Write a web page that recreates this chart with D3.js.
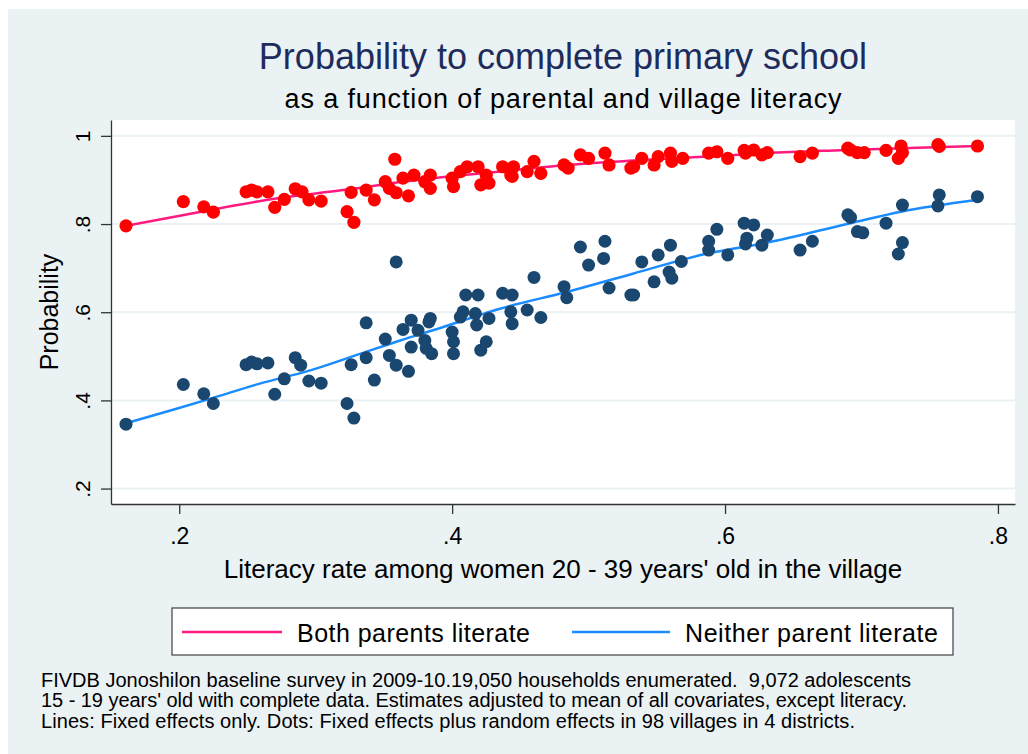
<!DOCTYPE html>
<html>
<head>
<meta charset="utf-8">
<script src="https://cdnjs.cloudflare.com/ajax/libs/d3/7.8.5/d3.min.js"></script>
<style>
  html, body { margin: 0; padding: 0; background: #ffffff; }
  svg { display: block; font-family: "Liberation Sans", Arial, sans-serif; }
  text { white-space: pre; }
</style>
</head>
<body>
<svg id="chart" width="1028" height="754"></svg>
<script>
// ---------- data ----------
const titleText = "Probability to complete primary school";
const subtitleText = "as a function of parental and village literacy";
const xTitle = "Literacy rate among women 20 - 39 years' old in the village";
const yTitle = "Probability";
const seriesNames = ["Both parents literate", "Neither parent literate"];
const notes = [
  "FIVDB Jonoshilon baseline survey in 2009-10.19,050 households enumerated.  9,072 adolescents",
  "15 - 19 years' old with complete data. Estimates adjusted to mean of all covariates, except literacy.",
  "Lines: Fixed effects only. Dots: Fixed effects plus random effects in 98 villages in 4 districts."
];
const xTicks = [0.2, 0.4, 0.6, 0.8];
const xTickLabels = [".2", ".4", ".6", ".8"];
const yTicks = [0.2, 0.4, 0.6, 0.8, 1];
const yTickLabels = [".2", ".4", ".6", ".8", "1"];

// Dots: both parents literate (fixed + random effects)
const redX = [.161,.203,.218,.225,.249,.253,.257,.265,.270,.277,.285,.290,.295,.304,.323,.328,.326,.337,.343,.351,.358,.354,.359,.364,.368,.372,.380,.384,.384,.400,.401,.406,.411,.419,.421,.425,.427,.437,.443,.445,.444,.455,.460,.465,.482,.485,.494,.500,.512,.515,.531,.533,.539,.548,.551,.560,.561,.569,.588,.594,.602,.614,.615,.621,.627,.631,.655,.664,.690,.692,.697,.702,.718,.729,.730,.727,.756,.757,.785];
const redY = [.796,.851,.839,.827,.873,.877,.873,.873,.838,.856,.880,.873,.855,.852,.828,.804,.872,.877,.855,.896,.947,.881,.871,.904,.864,.911,.896,.911,.881,.904,.885,.919,.930,.930,.889,.911,.893,.930,.911,.930,.908,.919,.942,.915,.934,.927,.957,.949,.961,.934,.927,.930,.949,.934,.953,.961,.942,.949,.961,.964,.949,.967,.961,.968,.957,.962,.953,.961,.972,.968,.962,.962,.967,.977,.962,.949,.980,.976,.977];

// Dots: neither parent literate
const blueX = [.161,.203,.218,.225,.249,.253,.257,.265,.270,.277,.285,.289,.295,.304,.323,.328,.326,.337,.337,.343,.351,.359,.354,.359,.368,.364,.370,.370,.375,.380,.383,.384,.381,.385,.400,.401,.401,.406,.408,.410,.417,.419,.418,.421,.425,.427,.437,.443,.444,.444,.455,.460,.465,.482,.484,.494,.500,.511,.512,.515,.531,.533,.539,.548,.551,.559,.561,.560,.568,.588,.588,.594,.602,.614,.616,.615,.621,.627,.631,.655,.664,.690,.692,.697,.701,.718,.730,.730,.727,.757,.756,.785];
const blueY = [.346,.436,.415,.393,.481,.487,.483,.485,.414,.449,.497,.480,.444,.439,.393,.360,.481,.576,.497,.446,.539,.714,.502,.480,.466,.561,.521,.582,.559,.536,.578,.586,.518,.506,.555,.533,.506,.589,.601,.639,.597,.639,.571,.514,.533,.586,.643,.601,.639,.574,.605,.679,.588,.658,.633,.748,.707,.722,.761,.655,.639,.639,.714,.669,.730,.691,.677,.752,.715,.761,.741,.788,.730,.802,.768,.755,.798,.752,.775,.741,.761,.821,.815,.783,.780,.802,.843,.758,.732,.866,.841,.862];

// Lines: fixed effects only
const redLineX = [.161,.223,.271,.320,.364,.386,.435,.484,.533,.587,.631,.680,.729,.785];
const redLineY = [.796,.832,.858,.877,.896,.904,.919,.934,.944,.953,.961,.967,.972,.977];
const blueLineX = [.161,.198,.223,.259,.296,.333,.362,.386,.435,.484,.533,.587,.631,.692,.729,.785];
const blueLineY = [.348,.381,.404,.438,.468,.506,.536,.559,.608,.646,.688,.733,.758,.802,.828,.855];

// ---------- styles / layout ----------
const W = 1028, H = 754;
const bg = "#eaf2f3";
const plot = { left: 111, right: 1015, top: 120, bottom: 504 };
const redDot = "#ff0000", blueDot = "#1a476f";
const redLine = "#ff1a80", blueLine = "#1a8cff";
const titleColor = "#1e2c5c";
const axisColor = "#333333";

const svg = d3.select("#chart");

// graph region background
svg.append("rect").attr("x", 8).attr("y", 9).attr("width", W - 8).attr("height", H - 9).attr("fill", bg);
// plot region
svg.append("rect").attr("x", plot.left).attr("y", plot.top)
  .attr("width", plot.right - plot.left).attr("height", plot.bottom - plot.top).attr("fill", "#ffffff");

const x = d3.scaleLinear().domain([0.15, 0.8125]).range([plot.left, plot.right]);
const y = d3.scaleLinear().domain([0.165, 1.036]).range([plot.bottom, plot.top]);

// gridlines
svg.append("g").selectAll("line").data(yTicks).join("line")
  .attr("x1", plot.left).attr("x2", plot.right)
  .attr("y1", d => y(d)).attr("y2", d => y(d))
  .attr("stroke", bg).attr("stroke-width", 2);

// fitted lines
const lineGen = d3.line().x(d => x(d[0])).y(d => y(d[1])).curve(d3.curveMonotoneX);
svg.append("path").datum(redLineX.map((v, i) => [v, redLineY[i]]))
  .attr("d", lineGen).attr("fill", "none").attr("stroke", redLine).attr("stroke-width", 2.5);
svg.append("path").datum(blueLineX.map((v, i) => [v, blueLineY[i]]))
  .attr("d", lineGen).attr("fill", "none").attr("stroke", blueLine).attr("stroke-width", 2.5);

// dots
svg.append("g").selectAll("circle").data(redX.map((v, i) => [v, redY[i]])).join("circle")
  .attr("cx", d => x(d[0])).attr("cy", d => y(d[1])).attr("r", 6.6).attr("fill", redDot);
svg.append("g").selectAll("circle").data(blueX.map((v, i) => [v, blueY[i]])).join("circle")
  .attr("cx", d => x(d[0])).attr("cy", d => y(d[1])).attr("r", 6.5).attr("fill", blueDot);

// x axis
const xAxis = svg.append("g").attr("transform", `translate(0,${plot.bottom})`)
  .call(d3.axisBottom(x).tickValues(xTicks).tickSize(10).tickSizeOuter(0)
    .tickFormat((d, i) => xTickLabels[i]));
xAxis.select(".domain").attr("stroke", axisColor).attr("stroke-width", 1.3);
xAxis.selectAll(".tick line").attr("stroke", axisColor).attr("stroke-width", 1.3);
xAxis.selectAll(".tick text").attr("y", 40).attr("dy", null)
  .attr("font-size", 23).attr("fill", "#000").style("font-family", "'Liberation Sans', Arial, sans-serif");

// y axis
const yAxis = svg.append("g").attr("transform", `translate(${plot.left},0)`)
  .call(d3.axisLeft(y).tickValues(yTicks).tickSize(10).tickSizeOuter(0)
    .tickFormat((d, i) => yTickLabels[i]));
yAxis.select(".domain").attr("stroke", axisColor).attr("stroke-width", 1.3);
yAxis.selectAll(".tick line").attr("stroke", axisColor).attr("stroke-width", 1.3);
yAxis.selectAll(".tick text").attr("x", 0).attr("y", 0).attr("dy", null)
  .attr("text-anchor", "middle").attr("transform", "translate(-21.5,0) rotate(-90)")
  .attr("font-size", 21).attr("fill", "#000").style("font-family", "'Liberation Sans', Arial, sans-serif");

// titles
const cx = (plot.left + plot.right) / 2;
svg.append("text").attr("x", cx).attr("y", 69).attr("text-anchor", "middle")
  .attr("font-size", 36).attr("fill", titleColor).text(titleText);
svg.append("text").attr("x", cx).attr("y", 108).attr("text-anchor", "middle")
  .attr("font-size", 27).attr("textLength", 557).attr("lengthAdjust", "spacing")
  .attr("fill", "#000").text(subtitleText);
svg.append("text").attr("x", cx).attr("y", 578).attr("text-anchor", "middle")
  .attr("font-size", 26).attr("fill", "#000").text(xTitle);
svg.append("text").attr("transform", `translate(57.5,${(plot.top + plot.bottom) / 2}) rotate(-90)`)
  .attr("text-anchor", "middle").attr("font-size", 25).attr("fill", "#000").text(yTitle);

// legend
const leg = svg.append("g");
leg.append("rect").attr("x", 172).attr("y", 608).attr("width", 781).attr("height", 47)
  .attr("fill", "#fff").attr("stroke", "#404040").attr("stroke-width", 1.2);
const legItems = [
  { name: seriesNames[0], color: redLine, x0: 182, x1: 282, tx: 297, tw: 233 },
  { name: seriesNames[1], color: blueLine, x0: 572, x1: 670, tx: 685, tw: 253 }
];
legItems.forEach(it => {
  leg.append("line").attr("x1", it.x0).attr("x2", it.x1).attr("y1", 632).attr("y2", 632)
    .attr("stroke", it.color).attr("stroke-width", 2.5);
  leg.append("text").attr("x", it.tx).attr("y", 641.5).attr("font-size", 25)
    .attr("textLength", it.tw).attr("lengthAdjust", "spacing").attr("fill", "#000").text(it.name);
});

// notes
const noteW = [870, 866, 814];
notes.forEach((t, i) => {
  svg.append("text").attr("x", 41).attr("y", 687 + i * 20.3).attr("font-size", 20)
    .attr("textLength", noteW[i]).attr("lengthAdjust", "spacing").attr("fill", "#000").text(t);
});
</script>
</body>
</html>
